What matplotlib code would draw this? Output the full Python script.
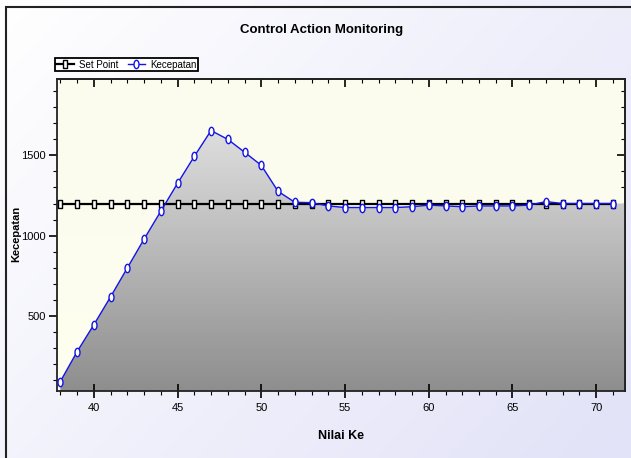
import numpy as np
import matplotlib
matplotlib.use('Agg')
from matplotlib import pyplot as plt
from matplotlib.patches import Rectangle
from matplotlib.ticker import MultipleLocator
from matplotlib.colors import LinearSegmentedColormap

# data
nilai_ke = list(range(38, 72))
kecepatan = [90, 276, 444, 618, 798, 978, 1152, 1326, 1494, 1655,
             1600, 1520, 1438, 1276, 1208, 1205, 1185, 1175, 1175, 1175,
             1175, 1180, 1190, 1185, 1180, 1185, 1185, 1185, 1190, 1212,
             1200, 1200, 1200, 1200]
set_point = [1200] * len(nilai_ke)

plt.rcParams['font.family'] = ['Liberation Sans', 'DejaVu Sans']

XMIN, XMAX = 37.8, 71.7
YMIN, YMAX = 30, 1975

fig = plt.figure(figsize=(6.31, 4.58), dpi=100)

# figure background: white -> lavender gradient, dark border top/left
bg = fig.add_axes([0, 0, 1, 1], zorder=-10)
bg.set_axis_off()
g = np.linspace(0, 1, 256)
grad = g[None, :] * 0.6 + g[:, None] * 0.4
cm_bg = LinearSegmentedColormap.from_list('bg', ['#ffffff', '#e2e2f8'])
bg.imshow(grad, cmap=cm_bg, extent=[0, 1, 0, 1], aspect='auto', origin='upper')
bg.set_xlim(0, 1)
bg.set_ylim(0, 1)
bg.add_patch(Rectangle((0.0095, -0.01), 1.0, 0.995, fill=False, edgecolor='#222222', lw=1.5))

ax = fig.add_axes([0.0903, 0.146, 0.8997, 0.681])

# plot area gradient (light yellow)
cm_ax = LinearSegmentedColormap.from_list('ax', ['#fffff0', '#fbfbee'])
ax.imshow(np.linspace(0, 1, 256)[:, None], cmap=cm_ax, extent=[XMIN, XMAX, YMIN, YMAX],
          aspect='auto', origin='lower', zorder=0)

# gray gradient fill under the speed curve, running on to the right edge
fx = nilai_ke + [XMAX]
fy = kecepatan + [kecepatan[-1]]
poly = ax.fill_between(fx, fy, YMIN, color='none', lw=0, zorder=1)
cm_fill = LinearSegmentedColormap.from_list('fill', ['#8e8e8e', '#dedede'])
im = ax.imshow(np.linspace(0, 1, 256)[:, None], cmap=cm_fill,
               extent=[XMIN, XMAX, YMIN, max(kecepatan)], aspect='auto', origin='lower', zorder=1)
im.set_clip_path(poly.get_paths()[0], transform=ax.transData)
ax.set_xlim(XMIN, XMAX)
ax.set_ylim(YMIN, YMAX)

# narrow markers like the original
rect = [(-0.28, -0.5), (0.28, -0.5), (0.28, 0.5), (-0.28, 0.5), (-0.28, -0.5)]
t = np.linspace(0, 2 * np.pi, 40)
oval = list(zip(0.3 * np.cos(t), 0.5 * np.sin(t)))

ax.plot(nilai_ke, set_point, color='black', lw=1.6, marker=rect, ms=6,
        mfc='white', mec='black', mew=1, label='Set Point', zorder=3)
ax.plot(nilai_ke, kecepatan, color='#1414e6', lw=1, marker=oval, ms=6,
        mfc='white', mec='#1414e6', mew=1, label='Kecepatan', zorder=4)

ax.xaxis.set_major_locator(MultipleLocator(5))
ax.xaxis.set_minor_locator(MultipleLocator(1))
ax.yaxis.set_minor_locator(MultipleLocator(100))
ax.set_yticks([500, 1000, 1500])
ax.tick_params(which='both', labelsize=8)
ax.tick_params(which='major', length=6, width=1.2)
ax.tick_params(which='minor', length=3, width=0.8)
ax.tick_params(axis='y', pad=2)
ax.tick_params(axis='x', which='major', direction='inout', length=10)

# inward ticks on top and right
top = ax.secondary_xaxis('top')
top.xaxis.set_major_locator(MultipleLocator(5))
top.xaxis.set_minor_locator(MultipleLocator(1))
top.tick_params(which='both', direction='in', labeltop=False)
top.tick_params(which='major', length=6, width=1.2)
top.tick_params(which='minor', length=3, width=0.8)
right = ax.secondary_yaxis('right')
right.set_yticks([500, 1000, 1500])
right.yaxis.set_minor_locator(MultipleLocator(100))
right.tick_params(which='both', direction='in', labelright=False)
right.tick_params(which='major', length=6, width=1.2)
right.tick_params(which='minor', length=3, width=0.8)
for a in (ax, top, right):
    for s in a.spines.values():
        s.set_linewidth(1.3)
        s.set_color('#222222')

ax.set_xlabel('Nilai Ke', fontsize=9, fontweight='bold', labelpad=12)
fig.text(0.026, 0.49, 'Kecepatan', rotation=90, ha='center', va='center',
         fontsize=8, fontweight='bold')
fig.text(0.51, 0.934, 'Control Action Monitoring', ha='center', va='center',
         fontsize=9.5, fontweight='bold')

leg = ax.legend(loc='lower left', bbox_to_anchor=(-0.004, 1.026), ncol=2, fontsize=7,
                frameon=True, fancybox=False, edgecolor='black', framealpha=1,
                borderpad=0.15, handlelength=1.8, columnspacing=1.0, handletextpad=0.5,
                borderaxespad=0)
leg.get_frame().set_linewidth(1.3)

fig.savefig('out.png', dpi=100)
